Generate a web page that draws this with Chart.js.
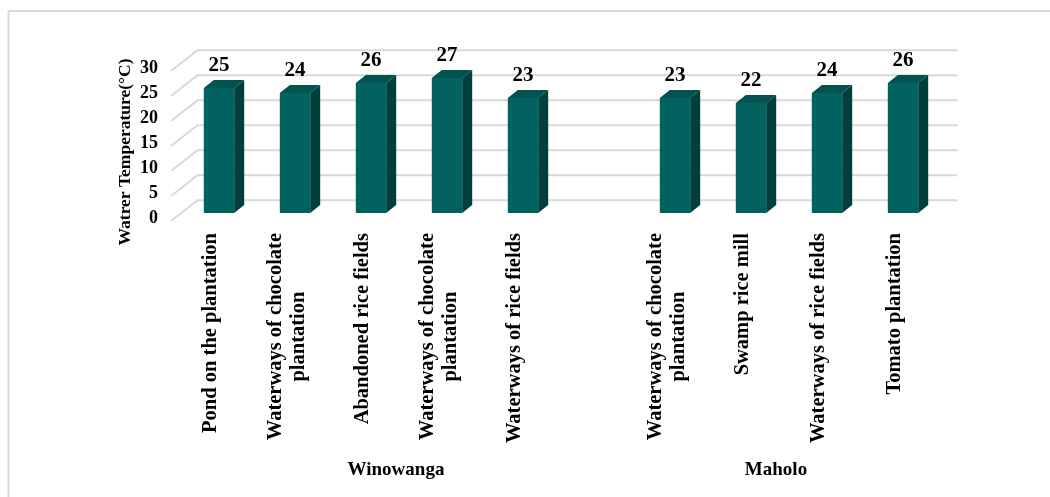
<!DOCTYPE html>
<html>
<head>
<meta charset="utf-8">
<title>Water temperature by site</title>
<script src="https://cdn.jsdelivr.net/npm/chart.js@4/dist/chart.umd.min.js"></script>
<style>
  html, body { margin: 0; padding: 0; background: #ffffff; }
  #wrap { width: 1050px; height: 497px; }
</style>
</head>
<body>
<div id="wrap"><canvas id="chart" width="1050" height="497"></canvas></div>
<script>
// Sampling sites (an empty slot separates the two villages)
const categories = [
  'Pond on the plantation',
  ['Waterways of chocolate', 'plantation'],
  'Abandoned rice fields',
  ['Waterways of chocolate', 'plantation'],
  'Waterways of rice fields',
  '',
  ['Waterways of chocolate', 'plantation'],
  'Swamp rice mill',
  'Waterways of rice fields',
  'Tomato plantation'
];
// Water temperature in °C
const temperatures = [25, 24, 26, 27, 23, null, 23, 22, 24, 26];
const yTicks = [0, 5, 10, 15, 20, 25, 30];
const groupNames = ['Winowanga', 'Maholo'];
const groupSpans = [[0, 5], [6, 9]];
const yTitle = 'Watrer Temperature(°C)';

const SERIF = "'Liberation Serif', 'Times New Roman', serif";
const FRONT = '#02625f';
const SIDE = '#013f3d';
const TOP = '#025250';
const GRID = '#d9d9d9';

// depth of a bar and offsets of the back wall / front edge relative to the bar face
const BAR_DX = 10, BAR_DY = -8;
const BACK_DX = 16.5, BACK_DY = -12.8;
const FRONT_DX = -10, FRONT_DY = 8;

const frame = {
  id: 'frame',
  beforeDraw(chart) {
    const ctx = chart.ctx;
    ctx.save();
    ctx.fillStyle = '#ffffff';
    ctx.fillRect(0, 0, chart.width, chart.height);
    ctx.strokeStyle = GRID;
    ctx.lineWidth = 2;
    ctx.beginPath();
    ctx.moveTo(8.5, chart.height + 2);
    ctx.lineTo(8.5, 11);
    ctx.lineTo(chart.width + 2, 11);
    ctx.stroke();
    ctx.restore();
  }
};

// Back wall gridlines, left wall edges and value axis labels
const wall = {
  id: 'wall',
  beforeDatasetsDraw(chart) {
    const ctx = chart.ctx;
    const ys = chart.scales.y;
    const a = chart.chartArea;
    ctx.save();
    ctx.strokeStyle = GRID;
    ctx.lineWidth = 2;
    yTicks.forEach(v => {
      const y = ys.getPixelForValue(v);
      ctx.beginPath();
      ctx.moveTo(a.left + FRONT_DX, y + FRONT_DY);
      ctx.lineTo(a.left + BACK_DX, y + BACK_DY);
      ctx.lineTo(a.right + BACK_DX, y + BACK_DY);
      ctx.stroke();
    });
    ctx.fillStyle = '#000';
    ctx.font = 'bold 18px ' + SERIF;
    ctx.textAlign = 'right';
    ctx.textBaseline = 'middle';
    yTicks.forEach(v => {
      const y = ys.getPixelForValue(v);
      ctx.fillText(String(v), 158, y + FRONT_DY - 2.5);
    });
    ctx.translate(125, (a.top + a.bottom) / 2 + 14);
    ctx.rotate(-Math.PI / 2);
    ctx.textAlign = 'center';
    ctx.font = 'bold 17.5px ' + SERIF;
    ctx.fillText(yTitle, 0, 0);
    ctx.restore();
  }
};

// Side and top faces, value labels and category labels
const depth = {
  id: 'depth',
  afterDatasetsDraw(chart) {
    const ctx = chart.ctx;
    const meta = chart.getDatasetMeta(0);
    const xs = chart.scales.x;
    ctx.save();
    meta.data.forEach((bar, i) => {
      if (temperatures[i] == null) return;
      const p = bar.getProps(['x', 'y', 'base', 'width'], true);
      const l = p.x - p.width / 2, r = p.x + p.width / 2;
      ctx.fillStyle = SIDE;
      ctx.beginPath();
      ctx.moveTo(r, p.y);
      ctx.lineTo(r + BAR_DX, p.y + BAR_DY);
      ctx.lineTo(r + BAR_DX, p.base + BAR_DY);
      ctx.lineTo(r, p.base);
      ctx.closePath();
      ctx.fill();
      ctx.fillStyle = TOP;
      ctx.beginPath();
      ctx.moveTo(l, p.y);
      ctx.lineTo(l + BAR_DX, p.y + BAR_DY);
      ctx.lineTo(r + BAR_DX, p.y + BAR_DY);
      ctx.lineTo(r, p.y);
      ctx.closePath();
      ctx.fill();
      ctx.fillStyle = '#000';
      ctx.font = 'bold 21px ' + SERIF;
      ctx.textAlign = 'center';
      ctx.textBaseline = 'alphabetic';
      ctx.fillText(String(temperatures[i]), p.x, p.y - 17.5);
    });

    // rotated category labels, lines centred on each other, ending at a common top
    ctx.font = 'bold 20.5px ' + SERIF;
    ctx.fillStyle = '#000';
    const lh = 23;
    categories.forEach((c, i) => {
      const lines = Array.isArray(c) ? c : [c];
      if (!lines.join('')) return;
      const maxW = Math.max(...lines.map(s => ctx.measureText(s).width));
      ctx.save();
      ctx.translate(xs.getPixelForValue(i) - 8, 233);
      ctx.rotate(-Math.PI / 2);
      ctx.textAlign = 'center';
      ctx.textBaseline = 'middle';
      lines.forEach((s, k) => {
        ctx.fillText(s, -maxW / 2, (k - (lines.length - 1) / 2) * lh);
      });
      ctx.restore();
    });

    // village names under their groups of sites
    ctx.font = 'bold 19px ' + SERIF;
    ctx.textAlign = 'center';
    ctx.textBaseline = 'middle';
    groupNames.forEach((g, k) => {
      const [a, b] = groupSpans[k];
      const cx = (xs.getPixelForValue(a) + xs.getPixelForValue(b)) / 2 - 13;
      ctx.fillText(g, cx, 470);
    });
    ctx.restore();
  }
};

new Chart(document.getElementById('chart'), {
  type: 'bar',
  data: {
    labels: categories,
    datasets: [{
      data: temperatures,
      backgroundColor: FRONT,
      borderWidth: 0,
      barPercentage: 0.4,
      categoryPercentage: 1
    }]
  },
  options: {
    responsive: false,
    animation: false,
    devicePixelRatio: 1,
    layout: { padding: { left: 181, right: 109, top: 63, bottom: 284 } },
    plugins: { legend: { display: false }, tooltip: { enabled: false } },
    scales: {
      x: { type: 'category', display: false },
      y: { min: 0, max: 30, display: false }
    }
  },
  plugins: [frame, wall, depth]
});
</script>
</body>
</html>
